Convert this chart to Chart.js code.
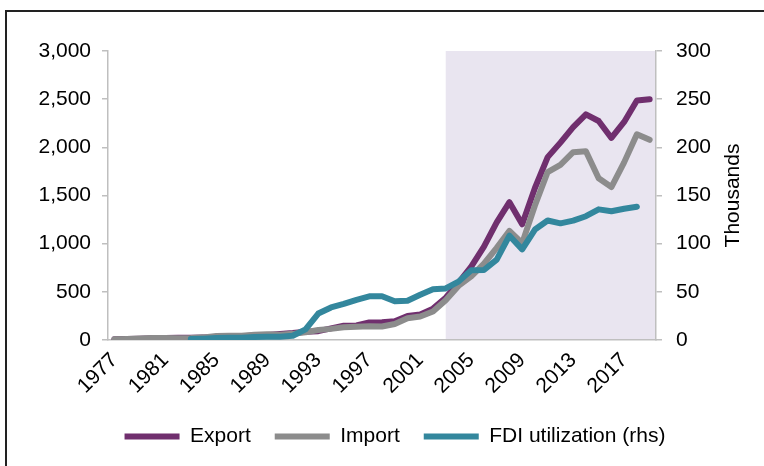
<!DOCTYPE html>
<html>
<head>
<meta charset="utf-8">
<script src="https://cdn.jsdelivr.net/npm/chart.js@4"></script>
<style>
  html, body { margin: 0; padding: 0; background: #fff; }
  #wrap { position: relative; width: 764px; height: 466px; overflow: hidden; }
  #frame { position: absolute; left: 5px; top: 10px; width: 900px; height: 600px;
           border-left: 2px solid #222; border-top: 2px solid #222; pointer-events: none; }
  canvas { position: absolute; left: 0; top: 0; }
</style>
</head>
<body>
<div id="wrap">
  <canvas id="chart" width="764" height="480"></canvas>
  <div id="frame"></div>
</div>
<script>
// China trade (USD bn) and utilised FDI (USD bn, right axis)
const years = ['1977','1978','1979','1980','1981','1982','1983','1984','1985','1986',
  '1987','1988','1989','1990','1991','1992','1993','1994','1995','1996',
  '1997','1998','1999','2000','2001','2002','2003','2004','2005','2006',
  '2007','2008','2009','2010','2011','2012','2013','2014','2015','2016',
  '2017','2018','2019'];

const exportVals = [7.6, 9.8, 13.7, 18.1, 22.0, 22.3, 22.2, 26.1, 27.4, 30.9,
  39.4, 47.5, 52.5, 62.1, 71.8, 84.9, 91.7, 121.0, 148.8, 151.0,
  182.8, 183.7, 194.9, 249.2, 266.1, 325.6, 438.2, 593.3, 762.0, 969.0,
  1220.5, 1430.7, 1201.6, 1577.8, 1898.4, 2048.7, 2209.0, 2342.3, 2273.5, 2097.6,
  2263.3, 2486.7, 2499.0];

const importVals = [7.2, 10.9, 15.7, 20.0, 22.0, 19.3, 21.4, 27.4, 42.3, 42.9,
  43.2, 55.3, 59.1, 53.4, 63.8, 80.6, 104.0, 115.6, 132.1, 138.8,
  142.4, 140.2, 165.7, 225.1, 243.6, 295.2, 412.8, 561.2, 660.0, 791.5,
  956.1, 1132.6, 1005.9, 1396.2, 1743.5, 1818.4, 1950.0, 1959.2, 1679.6, 1587.9,
  1843.8, 2135.7, 2078.4];

const fdiVals = [null, null, null, null, null, null, 0.92, 1.42, 1.96, 2.24,
  2.31, 3.19, 3.39, 3.49, 4.37, 11.0, 27.5, 33.8, 37.5, 41.7,
  45.3, 45.5, 40.3, 40.7, 46.9, 52.7, 53.5, 60.6, 72.4, 72.7,
  83.5, 108.3, 94.1, 114.7, 124.0, 121.1, 123.9, 128.5, 135.6, 133.7,
  136.3, 138.3, null];

const leftTicks = [0, 500, 1000, 1500, 2000, 2500, 3000];
const rightTicks = [0, 50, 100, 150, 200, 250, 300];
const shadeFrom = '2003';
const rightTitle = 'Thousands';

const FONT = '"Liberation Sans", Arial, sans-serif';
const AXIS = '#bfbfbf';

// light purple band from 2003 to the end, drawn under everything
const shadePlugin = {
  id: 'shade',
  beforeDraw(chart) {
    const { ctx, chartArea, scales } = chart;
    const x0 = scales.x.getPixelForValue(years.indexOf(shadeFrom));
    const yTop = scales.y.getPixelForValue(leftTicks[leftTicks.length - 1]);
    ctx.save();
    ctx.fillStyle = '#e9e5f0';
    ctx.fillRect(x0, yTop, chartArea.right - x0, chartArea.bottom - yTop);
    ctx.restore();
  },
  afterDraw(chart) {
    // right axis title reads bottom-to-top like the original
    const { ctx, chartArea } = chart;
    ctx.save();
    ctx.translate(733, (chartArea.top + chartArea.bottom) / 2);
    ctx.rotate(-Math.PI / 2);
    ctx.font = '21px ' + FONT;
    ctx.fillStyle = '#000';
    ctx.textAlign = 'center';
    ctx.textBaseline = 'middle';
    ctx.fillText(rightTitle, 0, 0);
    ctx.restore();
  }
};

const lineDs = (label, data, color, axis, order) => ({
  label, data, yAxisID: axis, order,
  borderColor: color, backgroundColor: color,
  borderWidth: 6, pointRadius: 0, pointHoverRadius: 0,
  borderCapStyle: 'round', borderJoinStyle: 'round',
  tension: 0, fill: false
});

new Chart(document.getElementById('chart'), {
  type: 'line',
  data: {
    labels: years,
    datasets: [
      lineDs('Export', exportVals, '#702f6e', 'y', 2),
      lineDs('Import', importVals, '#8c8c8c', 'y', 1),
      lineDs('FDI utilization (rhs)', fdiVals, '#33879d', 'y1', 0)
    ]
  },
  options: {
    responsive: false,
    animation: false,
    devicePixelRatio: 1,
    layout: { padding: { left: 26, right: 0, top: 51, bottom: 23 } },
    plugins: {
      tooltip: { enabled: false },
      legend: {
        position: 'bottom',
        labels: {
          usePointStyle: true,
          pointStyle: 'line',
          pointStyleWidth: 55,
          padding: 24,
          color: '#000',
          font: { family: FONT, size: 21 },
          sort: (a, b) => a.datasetIndex - b.datasetIndex
        }
      }
    },
    scales: {
      x: {
        offset: true,
        grid: { display: false, drawTicks: false },
        border: { display: true, color: AXIS, width: 1.5 },
        ticks: {
          autoSkip: false, minRotation: 45, maxRotation: 45,
          padding: 8, color: '#000',
          font: { family: FONT, size: 21 },
          callback: (v, i) => (i % 4 === 0 ? years[i] : '')
        },
        afterFit: s => { s.height = 62; }
      },
      y: {
        position: 'left',
        min: leftTicks[0], max: leftTicks[leftTicks.length - 1],
        afterBuildTicks: s => { s.ticks = leftTicks.map(v => ({ value: v })); },
        grid: { drawOnChartArea: false, tickLength: 6, color: AXIS, lineWidth: 1.5 },
        border: { color: AXIS, width: 1.5 },
        ticks: {
          padding: 11, color: '#000',
          font: { family: FONT, size: 21 },
          callback: v => v.toLocaleString('en-US')
        },
        afterFit: s => { s.width = 108 - 26; }
      },
      y1: {
        position: 'right',
        min: rightTicks[0], max: rightTicks[rightTicks.length - 1],
        afterBuildTicks: s => { s.ticks = rightTicks.map(v => ({ value: v })); },
        grid: { drawOnChartArea: false, tickLength: 6, color: AXIS, lineWidth: 1.5 },
        border: { color: AXIS, width: 1.5 },
        ticks: {
          padding: 14, color: '#000',
          font: { family: FONT, size: 21 }
        },
        afterFit: s => { s.width = 764 - 656; }
      }
    }
  },
  plugins: [shadePlugin]
});
</script>
</body>
</html>
